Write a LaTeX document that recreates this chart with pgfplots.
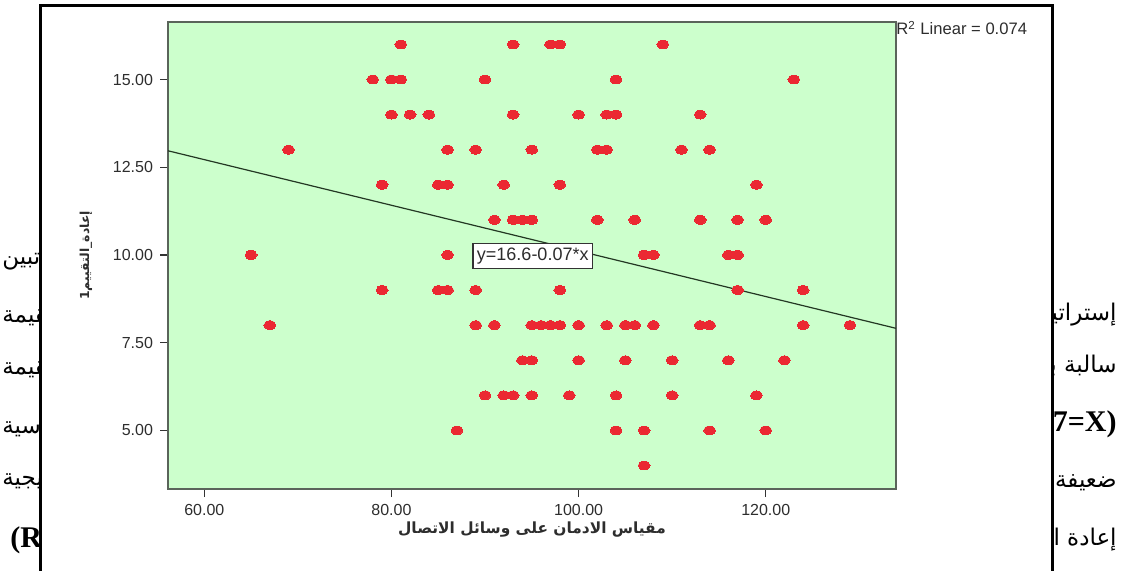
\documentclass[border=0pt]{standalone}
\usepackage{fontspec}
\usepackage{pgfplots}
\pgfplotsset{compat=1.18}
\setmainfont{Liberation Sans}
\newfontfamily\arabicfont[Script=Arabic]{DejaVu Sans}
\newfontfamily\docserif{Liberation Serif}
\TeXXeTstate=1

\definecolor{plotbg}{RGB}{204,255,204}
\definecolor{dotred}{RGB}{235,40,50}
\definecolor{txtgrey}{RGB}{45,45,45}
\definecolor{fitline}{RGB}{35,55,35}
\definecolor{framegrey}{RGB}{90,100,90}

\begin{document}
\begin{tikzpicture}
\useasboundingbox (0pt,0pt) rectangle (563pt,285pt);

% bits of the page text around the figure box
\begin{scope}
  \clip (0pt,0pt) rectangle (19.2pt,285pt);
  \tikzset{every node/.style={anchor=west, inner sep=0pt, font=\arabicfont\fontsize{11.5}{13}\selectfont}}
  \node at (1pt,154pt) {\beginR تبين\endR};
  \node at (1pt,127.5pt) {\beginR القيمة\endR};
  \node at (1pt,101.5pt) {\beginR القيمة\endR};
  \node at (1pt,73pt) {\beginR الأساسية\endR};
  \node at (1pt,45pt) {\beginR الاستراتيجية\endR};
  \node[font=\docserif\bfseries\fontsize{15}{17}\selectfont] at (5pt,15pt) {(R2=0.074)};
\end{scope}
\begin{scope}
  \clip (526.8pt,0pt) rectangle (563pt,285pt);
  \tikzset{every node/.style={anchor=east, inner sep=0pt, font=\arabicfont\fontsize{11.5}{13}\selectfont}}
  \node at (558.5pt,127.5pt) {\beginR إستراتيجيات\endR};
  \node at (558.5pt,101.5pt) {\beginR سالبة بين\endR};
  \node[font=\docserif\bfseries\fontsize{15}{17}\selectfont] at (558.5pt,73pt) {7=X)};
  \node at (558.5pt,45pt) {\beginR ضعيفة جدا\endR};
  \node at (558.5pt,15pt) {\beginR إعادة التقييم\endR};
\end{scope}

% frame of the figure box
\draw[line width=1.5pt] (20pt,-2pt) -- (20pt,282.5pt) -- (526pt,282.5pt) -- (526pt,-2pt);

\begin{axis}[
  at={(84pt,40.5pt)}, anchor=south west,
  scale only axis, width=364pt, height=233.5pt,
  xmin=56.12, xmax=133.92, ymin=3.33, ymax=16.64,
  axis background/.style={fill=plotbg},
  axis line style={framegrey, line width=0.8pt},
  tick pos=left, tick align=outside, major tick length=4pt,
  tick style={black!80, line width=0.6pt},
  xtick={60,80,100,120}, ytick={5,7.5,10,12.5,15},
  /pgf/number format/.cd, fixed, fixed zerofill, precision=2, assume math mode=true, /pgfplots/.cd,
  ticklabel style={font=\fontsize{8}{9}\selectfont, text=txtgrey},
  xlabel={\beginR مقياس الادمان على وسائل الاتصال\endR},
  xlabel style={font=\arabicfont\bfseries\fontsize{7.7}{10}\selectfont, text=txtgrey,
    at={(axis description cs:0.5,0)}, anchor=center, yshift=-20.5pt},
  ylabel={\beginR إعادة\_التقييم1\endR},
  ylabel style={font=\arabicfont\bfseries\fontsize{6.2}{8}\selectfont, text=txtgrey,
    at={(axis description cs:0,0.5)}, anchor=center, yshift=41pt},
  clip=true,
]
% fit line
\addplot[fitline, line width=0.6pt, no marks] coordinates {(56.12,12.97) (133.92,7.91)};

\addplot[only marks, color=dotred, mark=*, mark size=2.2pt,
  mark options={xscale=1.35, fill=dotred, draw=dotred, line width=0pt}] coordinates {
  (81,16) (93,16) (97,16) (98,16) (109,16)
  (78,15) (80,15) (81,15) (90,15) (104,15) (123,15)
  (80,14) (82,14) (84,14) (93,14) (100,14) (103,14) (104,14) (113,14)
  (69,13) (86,13) (89,13) (95,13) (102,13) (103,13) (111,13) (114,13)
  (79,12) (85,12) (86,12) (92,12) (98,12) (119,12)
  (91,11) (93,11) (94,11) (95,11) (102,11) (106,11) (113,11) (117,11) (120,11)
  (65,10) (86,10) (107,10) (108,10) (116,10) (117,10)
  (79,9) (85,9) (86,9) (89,9) (98,9) (117,9) (124,9)
  (67,8) (89,8) (91,8) (95,8) (96,8) (97,8) (98,8) (100,8) (103,8) (105,8)
  (106,8) (108,8) (113,8) (114,8) (124,8) (129,8)
  (94,7) (95,7) (100,7) (105,7) (110,7) (116,7) (122,7)
  (90,6) (92,6) (93,6) (95,6) (99,6) (104,6) (110,6) (119,6)
  (87,5) (104,5) (107,5) (114,5) (120,5)
  (107,4)
};

\node[draw=black!80, fill=white, line width=0.6pt, inner sep=2pt, text=txtgrey,
  font=\fontsize{9}{10}\selectfont] at (axis cs:95.1,9.97) {y=16.6-0.07*x};
\end{axis}

\node[anchor=west, inner sep=0pt, text=txtgrey, font=\fontsize{8.3}{9}\selectfont]
  at (448pt,271pt) {R\textsuperscript{2} Linear = 0.074};
\end{tikzpicture}
\end{document}
